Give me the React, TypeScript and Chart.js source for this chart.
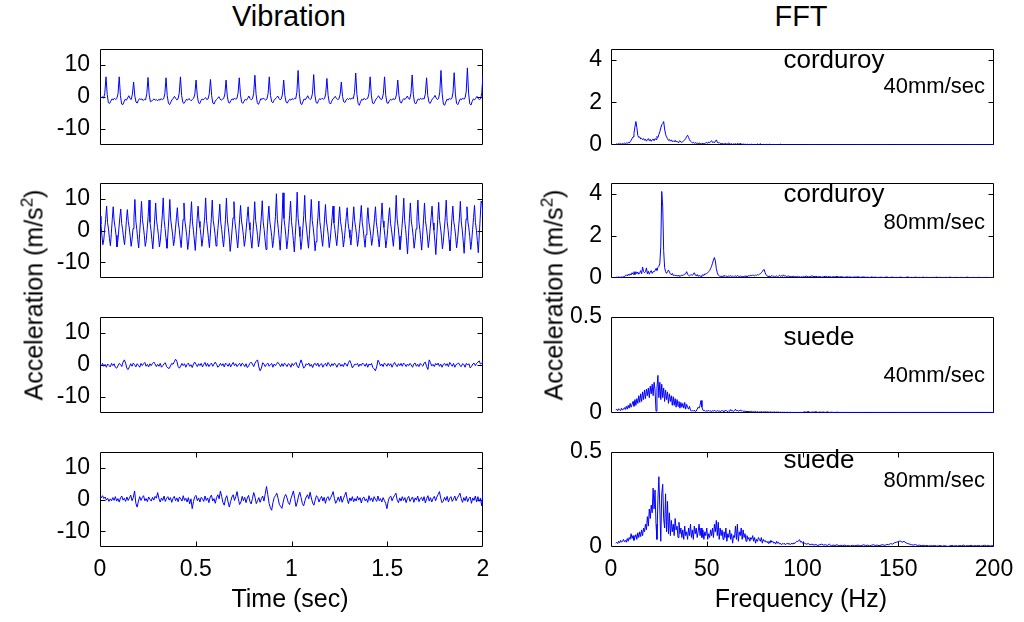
import React, { useEffect, useRef } from "react";
import { Chart, registerables } from "chart.js";
Chart.register(...registerables);

const FONT = '"Liberation Sans", Arial, Helvetica, sans-serif';

// ---------- axis ticks ----------
const TIME_TICKS = [0, 0.5, 1, 1.5, 2];
const FREQ_TICKS = [0, 50, 100, 150, 200];
const VIB_TICKS = [-10, 0, 10];
const FFT_TICKS_CORD = [0, 2, 4];
const FFT_TICKS_SUEDE = [0, 0.5];

// ---------- time signals (m/s^2), equally spaced over 0..2 s ----------
const VIB_CORDUROY_40 = [
  0.2, -0.3, 0.1, -0.4, 1.2,
  6.3, 0.8, -1.8, -2.0, -1.3, -0.6, -0.9, -0.4, -0.8, -0.5, 1.0,
  6.3, 0.5, -2.2, -2.4, -1.5, -0.7, -1.0, -0.3, 0.4, -0.5, -0.8, 0.9,
  4.7, 0.3, -1.6, -1.9, -1.0, -0.5, -0.8, -0.6, -1.1, -0.7, -0.9, 1.1,
  6.1, 0.6, -1.5, -1.3, -0.9, -0.6, -1.0, -0.8, -1.2, -0.7, -1.0, -0.5, -0.9, -0.6, 1.0,
  6.0, 0.4, -1.9, -2.4, -1.6, -0.8, -0.5, 0.2, -0.4, -0.9, -0.6, 1.2,
  6.3, 0.5, -1.7, -2.0, -1.4, -0.7, -1.0, -0.5, -0.8, -1.2, -0.7, -0.4, 0.9,
  5.3, 0.6, -1.8, -2.1, -1.2, -0.6, -0.9, -0.5, -0.2, -0.8, -0.6, 1.0,
  5.5, 0.4, -1.9, -2.2, -1.3, -0.8, -0.4, 0.1, -0.6, -1.0, -0.7, -0.5, 0.9,
  5.3, 0.3, -1.7, -1.9, -1.1, -0.6, -0.9, -0.3, -0.7, -0.5, 1.2,
  6.0, 0.7, -1.6, -2.0, -1.3, -0.7, -1.0, -0.4, 0.3, -0.5, -0.9, -0.6, 1.1,
  6.8, 0.8, -1.8, -2.3, -1.4, -0.5, -0.8, -0.3, -0.7, -1.0, -0.6, 1.0,
  6.3, 0.5, -1.5, -1.8, -1.0, -0.6, -0.2, 0.3, -0.4, -0.9, -0.6, 0.9,
  5.3, 0.4, -1.6, -1.9, -1.2, -0.7, -1.0, -0.5, -0.8, -0.4, -0.6, 1.5,
  8.3, 1.0, -1.9, -2.4, -1.5, -0.6, -0.9, -0.3, 0.4, -0.4, -0.8, -0.5, 1.2,
  7.0, 0.6, -1.7, -2.0, -1.1, -0.5, -0.8, -0.4, -0.7, -0.5, 1.0,
  5.8, 0.5, -1.8, -2.2, -1.3, -0.6, -0.3, 0.2, -0.5, -0.8, -0.6, 0.8,
  4.7, 0.2, -1.5, -1.7, -0.9, -0.5, -0.8, -0.4, -0.7, -0.3, -0.5, 1.4,
  7.5, 0.8, -2.0, -2.6, -1.5, -0.7, -1.0, -0.4, -0.8, -0.6, -0.4, 1.1,
  6.3, 0.6, -1.9, -2.1, -1.3, -0.6, -0.2, 0.4, -0.3, -0.8, -0.6, 1.0,
  6.3, 0.5, -1.8, -2.0, -1.2, -0.7, -1.0, -0.5, -0.8, -0.6, 0.9,
  5.3, 0.4, -1.6, -1.9, -1.0, -0.5, -0.8, -0.3, 0.3, -0.5, -0.7, 1.2,
  6.9, 0.7, -1.8, -2.2, -1.3, -0.6, -0.9, -0.4, -0.7, -0.5, -0.6, 1.0,
  6.0, 0.5, -1.7, -2.0, -1.2, -0.5, -0.2, 0.5, -0.3, -0.8, -0.5, 1.5,
  8.3, 1.0, -2.2, -2.6, -1.6, -0.7, -1.0, -0.4, -0.7, -0.5, 1.3,
  7.6, 0.9, -2.0, -2.4, -1.5, -0.6, -0.9, -0.3, -0.7, -0.4, 1.6,
  9.1, 1.2, -2.1, -2.5, -1.4, -0.6, -0.9, -0.4, 0.2, -0.5, -0.8, -0.6, 1.3,
  7.1,
];

const VIB_CORDUROY_80 = [
  4.5, 2.0, -1.5, -4.5, -3.0, 0.5, 3.5,
  7.7, 2.5, 0.5, -2.5, -4.8, -1.0, 3.5,
  7.5, 3.0, 1.0, -1.5, -5.2, -3.0, 0.5, 4.0,
  6.8, 2.2, 0.3, -2.4, -4.5, -1.2, 3.2,
  6.6, 2.8, 0.8, -1.8, -5.0, -2.8, 0.6, 4.2,
  9.8, 3.0, 0.4, -2.8, -5.5, -1.0, 3.8,
  9.2, 3.4, 1.2, -1.6, -5.0, -3.2, 0.4, 4.4,
  9.6, 2.6, 0.2, -2.9, -5.8, -1.4, 3.6,
  8.7, 3.1, 0.9, -1.7, -5.2, -3.0, 0.7, 4.6,
  10.3, 3.2, 0.6, -2.6, -5.6, -1.1, 3.9,
  9.8, 3.3, 1.1, -1.4, -4.8, -2.9, 0.5, 4.0,
  7.2, 2.4, 0.4, -2.7, -5.4, -1.3, 3.4,
  8.7, 3.0, 0.8, -1.9, -6.0, -3.4, 0.3, 4.1,
  9.1, 2.7, 0.1, -3.0, -6.3, -1.5, 3.7,
  7.7, 2.9, 1.0, -1.5, -5.0, -2.7, 0.8, 4.3,
  10.3, 3.1, 0.5, -2.6, -5.4, -1.1, 3.8,
  9.6, 3.2, 1.2, -1.3, -4.9, -2.8, 0.6, 4.2,
  8.3, 2.6, 0.3, -2.8, -5.2, -1.2, 3.5,
  10.2, 3.3, 0.9, -2.0, -6.6, -3.6, 0.2, 4.0,
  9.1, 2.8, 0.4, -2.7, -5.5, -1.3, 3.6,
  7.9, 3.0, 1.1, -1.5, -5.0, -2.9, 0.6, 4.1,
  7.5, 2.5, 0.2, -2.9, -5.6, -1.4, 3.3,
  9.1, 3.2, 1.0, -1.6, -5.2, -3.0, 0.5, 4.3,
  9.4, 2.7, 0.3, -3.0, -6.0, -1.5, 3.6,
  7.7, 2.9, 0.8, -1.8, -5.4, -3.1, 0.4, 4.5,
  11.6, 3.5, 0.6, -2.8, -6.2, -1.2, 4.0,
  11.9, 3.8, 1.3, -1.6, -5.8, -3.3, 0.7, 4.8,
  9.3, 2.8, 0.2, -3.2, -6.8, -1.6, 3.7,
  12.1, 3.9, 1.2, -1.9, -6.0, -3.4, 0.6, 4.7,
  11.1, 3.3, 0.5, -2.7, -5.6, -1.2, 3.9,
  9.8, 3.2, 0.9, -2.0, -6.4, -3.5, 0.4, 4.2,
  9.3, 2.9, 0.4, -2.5, -5.0, -1.1, 3.6,
  8.2, 3.0, 1.0, -1.6, -5.4, -3.0, 0.5, 4.0,
  7.7, 2.4, 0.3, -2.4, -4.8, -1.2, 3.3,
  7.5, 2.8, 0.9, -1.5, -5.2, -2.9, 0.6, 4.1,
  7.2, 2.3, 0.2, -2.3, -4.6, -1.0, 3.2,
  7.5, 2.9, 1.0, -1.4, -5.0, -2.8, 0.7, 4.0,
  7.9, 2.5, 0.4, -2.6, -5.3, -1.3, 3.4,
  7.2, 2.7, 0.8, -1.5, -4.7, -2.6, 0.5, 3.9,
  7.5, 2.4, 0.3, -2.5, -5.2, -1.2, 3.5,
  8.7, 3.0, 1.0, -1.7, -5.5, -3.1, 0.4, 4.2,
  7.2, 2.3, 0.2, -2.4, -5.0, -1.1, 3.6,
  11.1, 3.6, 1.2, -1.8, -6.0, -3.3, 0.6, 4.6,
  10.2, 3.1, 0.3, -3.3, -7.4, -1.8, 3.7,
  8.7, 3.0, 0.9, -1.9, -5.6, -3.2, 0.5, 4.3,
  9.6, 2.9, 0.4, -2.9, -6.2, -1.5, 3.6,
  8.7, 3.1, 1.0, -1.7, -5.4, -3.0, 0.6, 4.1,
  7.7, 2.4, 0.1, -3.4, -7.6, -1.9, 3.4,
  8.9, 3.2, 0.8, -2.0, -5.8, -3.3, 0.4, 4.2,
  9.6, 2.8, 0.3, -3.0, -6.4, -1.6, 3.7,
  7.7, 2.8, 0.9, -1.8, -5.5, -3.1, 0.5, 4.0,
  9.2, 2.7, 0.2, -3.3, -7.2, -1.8, 3.6,
  7.5, 2.7, 0.8, -2.0, -6.0, -3.4, 0.4, 4.1,
  7.9, 2.5, 0.1, -3.2, -7.0, -1.7, 3.8,
  9.3, 8.6, 4.5,
];

const VIB_SUEDE_40 = [
  0.4, -0.3, 0.5, -0.4, 0.2, -0.7, 0.3, -0.1, -0.6, 0.5, -0.2, 0.4, -0.7, -1.0, -0.3, 0.5, 0.2, -0.5, 0.9, 1.6,
  0.6, -1.1, -1.4, -0.5, 0.4, -0.4, 0.6, 0.1, -0.6, 0.4, -0.1, -0.7, 0.5, -0.2, 0.4, 0.8, -0.4, 0.2, -0.6, 0.4,
  -0.2, 0.5, 0.9, 0.3, -0.5, 0.2, -0.4, 0.5, -0.7, -0.2, 0.4, 0.7, -0.5, -0.9, -1.1, -0.3, 0.5, 0.2, 1.0, 1.8,
  1.2, -0.5, -1.0, -0.3, 0.5, -0.2, 0.4, -0.7, 0.2, 0.6, -0.4, 0.1, -0.8, 0.3, 0.9, 0.2, -0.5, 0.4, -0.2, 0.5,
  -0.6, 0.2, 0.8, -0.4, 0.5, -0.5, 0.1, 0.6, -0.4, 0.3, 0.9, 0.2, -0.7, -0.3, 0.5, -0.2, 0.4, -0.6, 0.6, 0.2,
  -0.4, 0.5, -0.6, 0.2, 0.8, -0.2, 0.4, -0.5, 0.1, 0.5, -0.4, 0.6, 0.2, -0.5, 0.4, -0.8, -0.3, 0.5, 0.9, 0.3,
  -0.5, 0.6, 1.2, 1.6, -0.6, -1.8, -1.0, 0.7, 0.3, -0.5, 0.2, 0.6, -0.4, 0.1, 0.5, -0.7, 0.3, -0.2, 0.5, 0.8,
  0.2, -0.5, 0.4, -0.4, 0.6, 0.1, -0.5, 0.4, 0.2, -0.7, 0.5, -0.2, 0.4, 0.8, -0.4, -0.9, 0.5, 1.6, 0.3, -1.0,
  -0.5, 0.4, 0.0, 0.6, -0.4, 0.2, -0.8, 0.3, 0.5, -0.2, 0.6, -0.5, 0.2, 0.4, -0.7, 0.1, 0.5, -0.4, 0.8, 0.2,
  -0.5, 0.4, -0.2, 0.6, 0.1, -0.7, 0.3, 0.5, -0.4, 0.2, -0.5, 0.6, 0.3, -0.4, 0.8, 1.4, 0.4, -0.9, -0.3, 0.3,
  0.1, 0.5, -0.5, 0.3, -0.2, 0.6, 0.2, -0.4, 0.5, -0.7, 0.3, 0.0, 0.5, -0.8, -1.2, -1.8, -0.6, 1.5, 0.8, -0.3,
  0.3, -0.5, 0.6, 0.2, -0.4, 0.5, -0.2, 0.4, -0.7, 0.2, 0.8, 0.0, -0.5, 0.4, -0.2, 0.5, -0.4, 0.6, 0.2, -0.5,
  0.3, -0.2, 0.5, 0.0, -0.7, 0.3, 0.6, -0.4, 0.2, -0.5, 0.5, 0.0, -0.4, 0.6, 0.9, -0.5, -1.4, 1.6, 0.7, -0.3,
  0.2, -0.5, 0.5, 0.0, 0.6, -0.4, 0.3, -0.7, 0.2, 0.5, -0.2, 0.4, -0.5, 0.8, 0.2, -0.4, 0.5, -0.7, 0.1, 0.4,
  0.6, -0.2, -0.5, 0.4, 0.2, -0.7, 0.5, 0.0, 0.4, -0.9, -0.5, 0.3, 0.6, -0.2, 0.5, 0.9, 1.3, 0.3, 0.6, 0.9,
];

const VIB_SUEDE_80 = [
  1.0, 0.5, 1.2, 0.3, 0.8, -0.2, 0.4, -0.6, 0.2, -0.4, 0.6, -0.3, 0.9, -0.5, 0.3, -0.8, 0.5, 1.1, -0.2, 0.4,
  -0.6, 0.8, -0.3, 0.5, 1.4, -0.4, 0.6, 2.7, -1.2, -2.4, -0.5, 0.9, -0.3, 0.6, 1.2, -0.4, 0.3, -0.7, 0.8, 0.1,
  -0.5, 0.7, -0.2, 1.0, 0.4, 2.2, 0.3, -0.8, 0.5, -0.3, 1.1, -0.6, 0.4, 0.9, -0.2, 0.6, -0.9, 0.3, 1.0, -0.4,
  0.5, -0.7, 0.8, 0.2, -0.5, 1.2, -0.3, 0.4, -0.8, 0.6, -1.4, 0.2, -2.9, -0.6, 0.9, 1.3, -0.4, 0.5, -0.8, 0.7,
  0.2, -0.6, 1.1, -0.3, 0.5, -1.0, 0.8, 1.4, -0.5, 0.3, -1.2, 0.6, 1.5, 0.2, 2.7, 0.9, -1.0, -1.8, 0.4, 1.2,
  -0.8, -2.4, -0.6, 0.8, 1.5, -0.3, 0.9, 2.5, 0.2, -1.6, -0.8, 1.0, -0.4, 0.7, -1.0, 0.5, 1.3, -0.6, -1.4, 0.3,
  2.2, 0.8, -1.3, -0.4, 0.6, -0.9, 0.3, 1.1, -0.5, 1.8, 4.1, 1.5, -1.2, -2.6, -3.4, -1.0, 0.6, 1.2, 2.0, 0.4,
  -1.5, -2.2, -2.8, -0.8, 0.9, 1.6, 0.5, -1.0, -1.6, 0.2, 1.4, 2.7, 0.3, -2.2, -0.9, 1.1, 2.3, 0.6, -1.3, -2.0,
  -0.4, 0.8, 1.5, 0.2, 2.3, 0.5, -1.1, -1.8, -0.2, 1.2, 0.6, -0.8, 0.3, 1.0, -0.5, 0.7, -1.2, 0.4, 0.9, -0.3,
  0.5, 1.4, 2.5, 0.3, -1.2, -0.4, 0.8, -0.6, 1.1, -0.9, 0.2, 1.3, 2.3, 0.1, -1.3, 0.5, -0.4, 0.9, -0.7, 0.3,
  -0.5, 1.0, -0.2, 0.6, -1.1, 0.4, 0.8, -0.4, 0.2, -0.9, 1.2, -0.3, 0.5, -0.7, 0.9, 0.1, -0.6, 1.1, -0.4, 0.3,
  -0.8, 0.6, -0.3, -1.2, -2.9, -0.5, 0.7, 1.1, -0.4, 0.6, 1.3, 2.0, -0.2, -1.0, 0.5, -0.5, 0.9, -0.3, 0.6, -1.0,
  0.4, 1.0, -0.6, 0.2, 0.8, -0.9, 0.5, -0.2, 1.1, -0.7, 0.3, 0.7, -0.4, 0.9, -1.1, 0.2, 1.2, -0.5, 0.6, -0.8,
  0.3, 1.0, -0.4, 0.8, 1.6, 2.5, 0.4, -1.0, -0.5, 0.7, -0.3, 1.0, -0.8, 0.4, 0.9, -0.6, 0.2, 1.1, -0.4, 0.5,
  1.2, 2.0, 0.3, -0.9, 0.6, -0.4, 1.0, -0.7, 0.3, 0.8, -1.2, 0.5, -0.3, 1.1, -0.8, 0.9, -0.6, 0.4, -2.0, 2.7,
];

// ---------- spectra (m/s^2): low band 2.5..100 Hz every 0.5 Hz, high band 101..200 Hz every 1 Hz ----------
const FFT_CORDUROY_40_LOW = [
  0.03, 0.05, 0.04, 0.06, 0.05, 0.08, 0.04, 0.07, 0.05, 0.09,
  0.06, 0.1, 0.08, 0.12, 0.09, 0.15, 0.22, 0.3, 0.38, 0.55,
  0.85, 1.1, 0.82, 0.45, 0.35, 0.38, 0.28, 0.32, 0.25, 0.3,
  0.22, 0.28, 0.18, 0.25, 0.3, 0.2, 0.27, 0.17, 0.24, 0.28,
  0.2, 0.3, 0.26, 0.4, 0.35, 0.5, 0.62, 0.8, 0.95, 1.0,
  1.1, 0.75, 0.5, 0.38, 0.3, 0.22, 0.26, 0.18, 0.24, 0.16,
  0.2, 0.15, 0.22, 0.14, 0.18, 0.12, 0.16, 0.2, 0.14, 0.12,
  0.16, 0.2, 0.24, 0.3, 0.4, 0.46, 0.35, 0.25, 0.18, 0.14,
  0.1, 0.13, 0.08, 0.11, 0.07, 0.1, 0.06, 0.09, 0.07, 0.05,
  0.06, 0.08, 0.05, 0.07, 0.1, 0.12, 0.08, 0.14, 0.1, 0.16,
  0.2, 0.12, 0.15, 0.1, 0.18, 0.24, 0.14, 0.09, 0.12, 0.07,
  0.05, 0.08, 0.04, 0.06, 0.05, 0.07, 0.04, 0.06, 0.1, 0.05,
  0.04, 0.06, 0.03, 0.05, 0.04, 0.06, 0.03, 0.08, 0.05, 0.04,
  0.09, 0.04, 0.03, 0.05, 0.02, 0.04, 0.03, 0.02, 0.04, 0.02,
  0.03, 0.02, 0.04, 0.02, 0.01, 0.03, 0.02, 0.01, 0.05, 0.02,
  0.03, 0.06, 0.02, 0.01, 0.03, 0.02, 0.01, 0.04, 0.02, 0.01,
  0.05, 0.02, 0.01, 0.02, 0.01, 0.03, 0.01, 0.02, 0.01, 0.01,
  0.02, 0.01, 0.04, 0.01, 0.01, 0.02, 0.01, 0.01, 0.01, 0.01,
  0.01, 0.01, 0.01, 0.01, 0.01, 0.01, 0.01, 0.01, 0.01, 0.01,
  0.01, 0.01, 0.01, 0.01, 0.01, 0.01,
];
const FFT_CORDUROY_40_HIGH = [
  0.01, 0.01, 0.01, 0.01, 0.01, 0.01, 0.01, 0.01, 0.01, 0.01,
  0.01, 0.01, 0.01, 0.01, 0.01, 0.01, 0.01, 0.01, 0.01, 0.01,
  0.01, 0.01, 0.01, 0.01, 0.01, 0.01, 0.01, 0.01, 0.01, 0.01,
  0.01, 0.01, 0.01, 0.01, 0.01, 0.01, 0.01, 0.01, 0.01, 0.01,
  0.01, 0.01, 0.01, 0.01, 0.01, 0.01, 0.01, 0.01, 0.01, 0.01,
  0.01, 0.01, 0.01, 0.01, 0.01, 0.01, 0.01, 0.01, 0.01, 0.01,
  0.01, 0.01, 0.01, 0.01, 0.01, 0.01, 0.01, 0.01, 0.01, 0.01,
  0.01, 0.01, 0.01, 0.01, 0.01, 0.01, 0.01, 0.01, 0.01, 0.01,
  0.01, 0.01, 0.01, 0.01, 0.01, 0.01, 0.01, 0.01, 0.01, 0.01,
  0.01, 0.01, 0.01, 0.01, 0.01, 0.01, 0.01, 0.01, 0.01, 0.01,
];

const FFT_CORDUROY_80_LOW = [
  0.03, 0.04, 0.03, 0.05, 0.04, 0.03, 0.05, 0.04, 0.06, 0.05,
  0.12, 0.15, 0.1, 0.18, 0.12, 0.2, 0.14, 0.25, 0.18, 0.3,
  0.15, 0.3, 0.2, 0.28, 0.18, 0.25, 0.35, 0.2, 0.52, 0.3,
  0.25, 0.3, 0.48, 0.2, 0.32, 0.18, 0.28, 0.35, 0.22, 0.3,
  0.3, 0.34, 0.45, 0.36, 0.5, 0.55, 0.7, 1.5, 4.1, 3.4,
  1.3, 0.5, 0.3, 0.22, 0.3, 0.38, 0.28, 0.2, 0.15, 0.22,
  0.12, 0.15, 0.1, 0.13, 0.09, 0.12, 0.1, 0.08, 0.11, 0.14,
  0.12, 0.15, 0.18, 0.2, 0.3, 0.18, 0.12, 0.1, 0.14, 0.16,
  0.12, 0.18, 0.25, 0.14, 0.1, 0.16, 0.08, 0.12, 0.1, 0.07,
  0.13, 0.16, 0.12, 0.2, 0.18, 0.22, 0.25, 0.3, 0.35, 0.45,
  0.55, 0.7, 0.85, 0.97, 0.8, 0.45, 0.25, 0.14, 0.1, 0.07,
  0.09, 0.06, 0.1, 0.08, 0.12, 0.07, 0.09, 0.06, 0.1, 0.08,
  0.11, 0.07, 0.09, 0.05, 0.08, 0.1, 0.06, 0.12, 0.08, 0.07,
  0.1, 0.06, 0.08, 0.05, 0.09, 0.07, 0.1, 0.06, 0.08, 0.12,
  0.09, 0.13, 0.1, 0.15, 0.12, 0.1, 0.14, 0.12, 0.16, 0.14,
  0.18, 0.2, 0.25, 0.3, 0.38, 0.4, 0.25, 0.15, 0.1, 0.07,
  0.1, 0.06, 0.08, 0.12, 0.07, 0.09, 0.05, 0.08, 0.1, 0.06,
  0.09, 0.13, 0.08, 0.11, 0.07, 0.15, 0.09, 0.12, 0.06, 0.08,
  0.1, 0.07, 0.09, 0.05, 0.08, 0.06, 0.09, 0.05, 0.07, 0.06,
  0.08, 0.05, 0.07, 0.04, 0.06, 0.05,
];
const FFT_CORDUROY_80_HIGH = [
  0.06, 0.09, 0.05, 0.07, 0.1, 0.06, 0.08, 0.05, 0.07, 0.04,
  0.06, 0.08, 0.05, 0.07, 0.04, 0.06, 0.05, 0.08, 0.04, 0.06,
  0.05, 0.03, 0.06, 0.04, 0.05, 0.03, 0.05, 0.04, 0.06, 0.03,
  0.04, 0.05, 0.03, 0.04, 0.02, 0.05, 0.03, 0.04, 0.02, 0.03,
  0.04, 0.02, 0.03, 0.05, 0.02, 0.03, 0.04, 0.02, 0.03, 0.02,
  0.04, 0.03, 0.02, 0.03, 0.05, 0.02, 0.03, 0.02, 0.04, 0.02,
  0.03, 0.02, 0.04, 0.02, 0.03, 0.02, 0.02, 0.03, 0.02, 0.04,
  0.02, 0.03, 0.02, 0.02, 0.03, 0.02, 0.04, 0.02, 0.02, 0.03,
  0.02, 0.02, 0.03, 0.02, 0.02, 0.04, 0.02, 0.02, 0.03, 0.02,
  0.02, 0.03, 0.02, 0.02, 0.02, 0.03, 0.02, 0.02, 0.02, 0.02,
];

const FFT_SUEDE_40_LOW = [
  0.015, 0.02, 0.012, 0.022, 0.018, 0.012, 0.025, 0.015, 0.02, 0.028,
  0.018, 0.035, 0.02, 0.04, 0.025, 0.05, 0.03, 0.045, 0.06, 0.035,
  0.07, 0.04, 0.075, 0.05, 0.09, 0.055, 0.1, 0.06, 0.11, 0.07,
  0.12, 0.075, 0.125, 0.09, 0.13, 0.08, 0.14, 0.1, 0.15, 0.09,
  0.16, 0.12, 0.01, 0.13, 0.196, 0.08, 0.16, 0.07, 0.15, 0.08,
  0.13, 0.06, 0.12, 0.07, 0.11, 0.05, 0.1, 0.06, 0.09, 0.04,
  0.085, 0.04, 0.075, 0.03, 0.07, 0.035, 0.06, 0.025, 0.055, 0.03,
  0.05, 0.025, 0.055, 0.02, 0.045, 0.03, 0.02, 0.035, 0.015, 0.01,
  0.012, 0.01, 0.015, 0.008, 0.01, 0.02, 0.03, 0.025, 0.04, 0.065,
  0.03, 0.015, 0.012, 0.013, 0.008, 0.012, 0.01, 0.014, 0.009, 0.011,
  0.008, 0.012, 0.009, 0.015, 0.01, 0.008, 0.013, 0.009, 0.011, 0.007,
  0.01, 0.014, 0.008, 0.012, 0.009, 0.015, 0.01, 0.007, 0.012, 0.009,
  0.018, 0.01, 0.012, 0.008, 0.014, 0.02, 0.01, 0.015, 0.009, 0.012,
  0.016, 0.01, 0.013, 0.008, 0.011, 0.007, 0.01, 0.006, 0.009, 0.007,
  0.008, 0.006, 0.009, 0.005, 0.007, 0.006, 0.008, 0.005, 0.007, 0.004,
  0.006, 0.005, 0.008, 0.004, 0.006, 0.005, 0.007, 0.004, 0.006, 0.005,
  0.005, 0.004, 0.006, 0.003, 0.005, 0.004, 0.006, 0.003, 0.005, 0.004,
  0.005, 0.003, 0.004, 0.003, 0.004, 0.003, 0.004, 0.003, 0.003, 0.004,
  0.003, 0.003, 0.004, 0.003, 0.003, 0.003, 0.003, 0.003, 0.003, 0.003,
  0.003, 0.003, 0.003, 0.003, 0.003, 0.003,
];
const FFT_SUEDE_40_HIGH = [
  0.006, 0.004, 0.008, 0.003, 0.005, 0.004, 0.007, 0.003, 0.005, 0.004,
  0.005, 0.003, 0.006, 0.003, 0.004, 0.003, 0.003, 0.004, 0.003, 0.003,
  0.003, 0.003, 0.003, 0.003, 0.003, 0.003, 0.003, 0.003, 0.003, 0.003,
  0.003, 0.003, 0.003, 0.003, 0.003, 0.003, 0.003, 0.003, 0.003, 0.003,
  0.003, 0.003, 0.003, 0.003, 0.003, 0.003, 0.003, 0.003, 0.003, 0.003,
  0.003, 0.003, 0.003, 0.003, 0.003, 0.003, 0.003, 0.003, 0.003, 0.003,
  0.003, 0.003, 0.003, 0.003, 0.003, 0.003, 0.003, 0.003, 0.003, 0.003,
  0.003, 0.003, 0.003, 0.003, 0.003, 0.003, 0.003, 0.003, 0.003, 0.003,
  0.003, 0.003, 0.003, 0.003, 0.003, 0.003, 0.003, 0.003, 0.003, 0.003,
  0.003, 0.003, 0.003, 0.003, 0.003, 0.003, 0.003, 0.003, 0.003, 0.003,
];

const FFT_SUEDE_80_LOW = [
  0.02, 0.025, 0.018, 0.03, 0.022, 0.035, 0.025, 0.03, 0.04, 0.028,
  0.035, 0.025, 0.045, 0.03, 0.05, 0.04, 0.07, 0.045, 0.06, 0.035,
  0.05, 0.065, 0.04, 0.075, 0.05, 0.08, 0.055, 0.09, 0.06, 0.1,
  0.08, 0.12, 0.09, 0.16, 0.11, 0.2, 0.15, 0.22, 0.18, 0.31,
  0.2, 0.3, 0.12, 0.04, 0.25, 0.37, 0.2, 0.03, 0.28, 0.33,
  0.15, 0.1, 0.28, 0.08, 0.24, 0.07, 0.18, 0.06, 0.14, 0.08,
  0.12, 0.06, 0.15, 0.09, 0.11, 0.05, 0.13, 0.07, 0.1, 0.05,
  0.09, 0.04, 0.11, 0.06, 0.08, 0.04, 0.1, 0.06, 0.12, 0.05,
  0.09, 0.04, 0.11, 0.07, 0.1, 0.05, 0.08, 0.12, 0.06, 0.1,
  0.05, 0.09, 0.04, 0.08, 0.06, 0.1, 0.04, 0.07, 0.05, 0.09,
  0.06, 0.1, 0.05, 0.12, 0.08, 0.14, 0.06, 0.13, 0.04, 0.1,
  0.06, 0.09, 0.04, 0.08, 0.05, 0.1, 0.03, 0.07, 0.05, 0.09,
  0.04, 0.07, 0.02, 0.06, 0.05, 0.11, 0.04, 0.12, 0.03, 0.08,
  0.06, 0.1, 0.04, 0.09, 0.05, 0.07, 0.03, 0.06, 0.04, 0.05,
  0.03, 0.05, 0.04, 0.06, 0.03, 0.05, 0.02, 0.04, 0.03, 0.05,
  0.04, 0.03, 0.05, 0.02, 0.04, 0.03, 0.035, 0.025, 0.03, 0.02,
  0.03, 0.02, 0.035, 0.025, 0.03, 0.02, 0.025, 0.015, 0.03, 0.02,
  0.025, 0.015, 0.02, 0.012, 0.018, 0.015, 0.02, 0.012, 0.016, 0.02,
  0.015, 0.02, 0.012, 0.018, 0.02, 0.015, 0.022, 0.018, 0.025, 0.03,
  0.028, 0.035, 0.038, 0.025, 0.03, 0.02,
];
const FFT_SUEDE_80_HIGH = [
  0.02, 0.015, 0.018, 0.012, 0.015, 0.01, 0.013, 0.008, 0.012, 0.015,
  0.01, 0.012, 0.008, 0.015, 0.006, 0.01, 0.008, 0.012, 0.006, 0.009,
  0.007, 0.01, 0.006, 0.008, 0.005, 0.009, 0.006, 0.008, 0.01, 0.006,
  0.008, 0.012, 0.007, 0.01, 0.006, 0.009, 0.012, 0.008, 0.01, 0.007,
  0.01, 0.012, 0.008, 0.014, 0.012, 0.018, 0.015, 0.022, 0.025, 0.028,
  0.032, 0.025, 0.03, 0.022, 0.018, 0.015, 0.012, 0.01, 0.013, 0.008,
  0.01, 0.007, 0.009, 0.006, 0.008, 0.005, 0.007, 0.006, 0.008, 0.005,
  0.006, 0.008, 0.004, 0.007, 0.005, 0.003, 0.006, 0.008, 0.005, 0.007,
  0.005, 0.008, 0.006, 0.01, 0.005, 0.007, 0.006, 0.009, 0.005, 0.007,
  0.006, 0.008, 0.005, 0.007, 0.009, 0.006, 0.008, 0.005, 0.007, 0.006,
];

const LOW_BAND_START_HZ = 2.5;
const LOW_BAND_STEP_HZ = 0.5;
const HIGH_BAND_START_HZ = 101;
const HIGH_BAND_STEP_HZ = 1;
const DURATION_SEC = 2;

type Pt = { x: number; y: number };

function timePoints(values: number[]): Pt[] {
  const n = values.length;
  return values.map((v, i) => ({ x: (i * DURATION_SEC) / (n - 1), y: v }));
}
function spectrumPoints(low: number[], high: number[]): Pt[] {
  const a = low.map((v, i) => ({ x: LOW_BAND_START_HZ + i * LOW_BAND_STEP_HZ, y: v }));
  const b = high.map((v, i) => ({ x: HIGH_BAND_START_HZ + i * HIGH_BAND_STEP_HZ, y: v }));
  return a.concat(b);
}

type Lbl = { text: string; dx: number; dy: number; align: CanvasTextAlign; size: number };

const framePlugin = {
  id: "frame",
  beforeDatasetsDraw(chart: any, _args: any, opts: any) {
    const { ctx, chartArea: a, scales } = chart;
    ctx.save();
    ctx.strokeStyle = "#000";
    ctx.lineWidth = 1;
    const L = Math.round(a.left) + 0.5;
    const R = Math.round(a.right) - 0.5;
    const T = Math.round(a.top) + 0.5;
    const B = Math.round(a.bottom) - 0.5;
    ctx.beginPath();
    ctx.rect(L, T, R - L, B - T);
    const tl = 5;
    for (const t of scales.y.ticks) {
      const y = Math.round(scales.y.getPixelForValue(t.value)) + 0.5;
      if (y <= T + 1 || y >= B - 1) continue;
      ctx.moveTo(L, y);
      ctx.lineTo(L + tl, y);
      ctx.moveTo(R, y);
      ctx.lineTo(R - tl, y);
    }
    if (opts.xTicks) {
      for (const t of scales.x.ticks) {
        const x = Math.round(scales.x.getPixelForValue(t.value)) + 0.5;
        if (x <= L + 1 || x >= R - 1) continue;
        ctx.moveTo(x, T);
        ctx.lineTo(x, T + tl);
        ctx.moveTo(x, B);
        ctx.lineTo(x, B - tl);
      }
    }
    ctx.stroke();
    ctx.restore();
  },
  afterDraw(chart: any, _args: any, opts: any) {
    const { ctx, chartArea: a } = chart;
    ctx.save();
    ctx.fillStyle = "#000";
    ctx.textBaseline = "alphabetic";
    for (const lb of (opts.labels || []) as Lbl[]) {
      ctx.font = `${lb.size}px ${FONT}`;
      ctx.textAlign = lb.align;
      ctx.fillText(lb.text, a.left + lb.dx, a.top + lb.dy);
    }
    ctx.restore();
  },
};

type PanelProps = {
  canvasLeft: number;
  canvasWidth: number;
  plotLeft: number;
  plotRight: number;
  plotTop: number;
  plotBottom: number;
  showX: boolean;
  xMin: number;
  xMax: number;
  xTicks: number[];
  yMin: number;
  yMax: number;
  yTicks: number[];
  yPad: number;
  points: Pt[];
  labels: Lbl[];
};

const PAD_T = 12;
const PAD_B = 12;
const X_AXIS_H = 45;
const TICK_FONT = { family: FONT, size: 23 };

function Panel(p: PanelProps) {
  const ref = useRef<HTMLCanvasElement>(null);
  const height = p.plotBottom - p.plotTop + PAD_T + (p.showX ? X_AXIS_H : PAD_B);
  const top = p.plotTop - PAD_T;
  const padL = p.plotLeft - p.canvasLeft;
  const padR = p.canvasLeft + p.canvasWidth - p.plotRight;
  useEffect(() => {
    if (!ref.current) return;
    const chart = new Chart(ref.current, {
      type: "line",
      data: {
        datasets: [
          {
            data: p.points,
            borderColor: "#0000ff",
            borderWidth: 1,
            pointRadius: 0,
            tension: 0,
            fill: false,
          },
        ],
      },
      options: {
        animation: false,
        responsive: false,
        maintainAspectRatio: false,
        devicePixelRatio: 1,
        parsing: false,
        events: [],
        layout: { padding: { left: 0, right: padR, top: PAD_T, bottom: p.showX ? 0 : PAD_B } },
        plugins: {
          legend: { display: false },
          tooltip: { enabled: false },
          frame: { xTicks: p.showX, labels: p.labels },
        } as any,
        scales: {
          x: {
            type: "linear",
            min: p.xMin,
            max: p.xMax,
            display: p.showX,
            grid: { display: false, drawTicks: false },
            border: { display: false },
            ticks: {
              autoSkip: false,
              maxRotation: 0,
              padding: 9,
              font: TICK_FONT,
              color: "#000",
              callback: (v: any) => String(v),
            },
            afterBuildTicks: (s: any) => {
              s.ticks = p.xTicks.map((v) => ({ value: v }));
            },
            afterFit: (s: any) => {
              s.height = p.showX ? X_AXIS_H : 0;
              s.paddingLeft = 0;
              s.paddingRight = 0;
            },
          },
          y: {
            type: "linear",
            min: p.yMin,
            max: p.yMax,
            grid: { display: false, drawTicks: false },
            border: { display: false },
            ticks: {
              autoSkip: false,
              padding: p.yPad,
              font: TICK_FONT,
              color: "#000",
              callback: (v: any) => String(v),
            },
            afterBuildTicks: (s: any) => {
              s.ticks = p.yTicks.map((v) => ({ value: v }));
            },
            afterFit: (s: any) => {
              s.width = padL;
              s.paddingTop = 0;
              s.paddingBottom = 0;
            },
          },
        },
      } as any,
      plugins: [framePlugin as any],
    });
    return () => chart.destroy();
  }, []);
  return (
    <canvas
      ref={ref}
      width={p.canvasWidth}
      height={height}
      style={{ position: "absolute", left: p.canvasLeft, top, width: p.canvasWidth, height }}
    />
  );
}

function Text(props: { x: number; baseline: number; size: number; children: React.ReactNode }) {
  const { x, baseline, size } = props;
  return (
    <div
      style={{
        position: "absolute",
        left: x,
        top: baseline - 0.8465 * size,
        transform: "translateX(-50%)",
        font: `${size}px ${FONT}`,
        lineHeight: `${size}px`,
        whiteSpace: "nowrap",
        color: "#000",
      }}
    >
      {props.children}
    </div>
  );
}

function YLabel(props: { cx: number; cy: number; size: number }) {
  const { cx, cy, size } = props;
  return (
    <div
      style={{
        position: "absolute",
        left: cx,
        top: cy,
        transform: "translate(-50%, -50%) rotate(-90deg)",
        font: `${size}px ${FONT}`,
        lineHeight: `${size}px`,
        whiteSpace: "nowrap",
        color: "#000",
      }}
    >
      Acceleration (m/s
      <span style={{ fontSize: "0.68em", position: "relative", top: "-0.6em", lineHeight: 0 }}>2</span>)
    </div>
  );
}

const ROW_TOPS = [49, 183, 317, 452];
const ROW_BOTTOMS = [145, 278, 413, 547];
const LEFT = { canvasLeft: 0, canvasWidth: 505, plotLeft: 100, plotRight: 483 };
const RIGHT = { canvasLeft: 515, canvasWidth: 509, plotLeft: 611, plotRight: 994 };

export default function App() {
  const vib = [VIB_CORDUROY_40, VIB_CORDUROY_80, VIB_SUEDE_40, VIB_SUEDE_80];
  const fft = [
    spectrumPoints(FFT_CORDUROY_40_LOW, FFT_CORDUROY_40_HIGH),
    spectrumPoints(FFT_CORDUROY_80_LOW, FFT_CORDUROY_80_HIGH),
    spectrumPoints(FFT_SUEDE_40_LOW, FFT_SUEDE_40_HIGH),
    spectrumPoints(FFT_SUEDE_80_LOW, FFT_SUEDE_80_HIGH),
  ];
  const fftMax = [4.5, 4.5, 0.5, 0.5];
  const fftTicks = [FFT_TICKS_CORD, FFT_TICKS_CORD, FFT_TICKS_SUEDE, FFT_TICKS_SUEDE];
  const fftLabels: Lbl[][] = [
    [
      { text: "corduroy", dx: 223, dy: 19, align: "center", size: 26 },
      { text: "40mm/sec", dx: 374, dy: 44, align: "right", size: 22 },
    ],
    [
      { text: "corduroy", dx: 223, dy: 19, align: "center", size: 26 },
      { text: "80mm/sec", dx: 374, dy: 46, align: "right", size: 22 },
    ],
    [
      { text: "suede", dx: 208, dy: 28, align: "center", size: 26 },
      { text: "40mm/sec", dx: 374, dy: 65, align: "right", size: 22 },
    ],
    [
      { text: "suede", dx: 208, dy: 16, align: "center", size: 26 },
      { text: "80mm/sec", dx: 374, dy: 35, align: "right", size: 22 },
    ],
  ];
  return (
    <div
      style={{
        position: "fixed",
        left: 0,
        top: 0,
        width: 1024,
        height: 622,
        background: "#fff",
        overflow: "hidden",
      }}
    >
      <Text x={289} baseline={27} size={29}>Vibration</Text>
      <Text x={801} baseline={27} size={29}>FFT</Text>
      {vib.map((v, i) => (
        <Panel
          key={"v" + i}
          {...LEFT}
          plotTop={ROW_TOPS[i]}
          plotBottom={ROW_BOTTOMS[i]}
          showX={i === 3}
          xMin={0}
          xMax={2}
          xTicks={TIME_TICKS}
          yMin={-15}
          yMax={15}
          yTicks={VIB_TICKS}
          yPad={10}
          points={timePoints(v)}
          labels={[]}
        />
      ))}
      {fft.map((pts, i) => (
        <Panel
          key={"f" + i}
          {...RIGHT}
          plotTop={ROW_TOPS[i]}
          plotBottom={ROW_BOTTOMS[i]}
          showX={i === 3}
          xMin={0}
          xMax={200}
          xTicks={FREQ_TICKS}
          yMin={0}
          yMax={fftMax[i]}
          yTicks={fftTicks[i]}
          yPad={9}
          points={pts}
          labels={fftLabels[i]}
        />
      ))}
      <YLabel cx={34} cy={295} size={25} />
      <YLabel cx={554} cy={295} size={25} />
      <Text x={290} baseline={607} size={25}>Time (sec)</Text>
      <Text x={801} baseline={607} size={25}>Frequency (Hz)</Text>
    </div>
  );
}
